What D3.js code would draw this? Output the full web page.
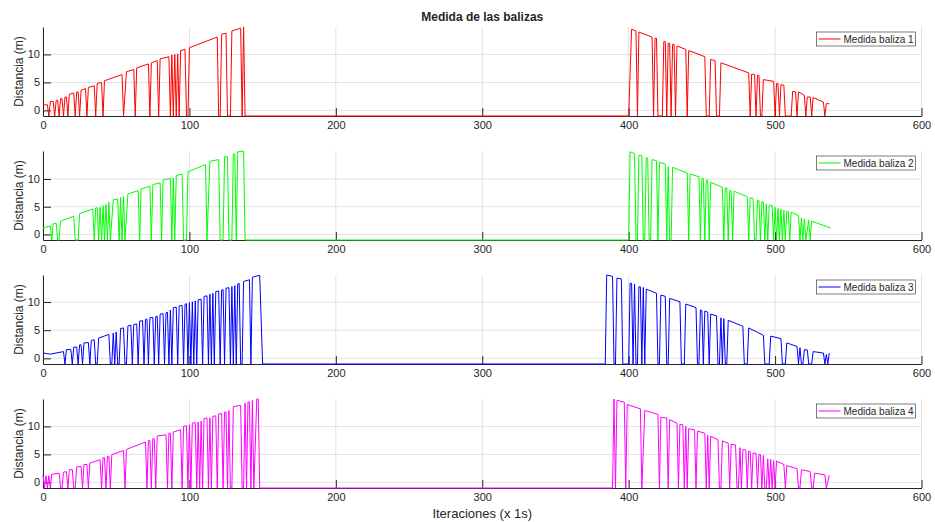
<!DOCTYPE html>
<html>
<head>
<meta charset="utf-8">
<script src="https://cdn.jsdelivr.net/npm/d3@7"></script>
<style>
body{margin:0;background:#fff;}
text{font-family:"Liberation Sans",Arial,Helvetica,sans-serif;fill:#262626;}
</style>
</head>
<body>
<div id="graph"></div>
<script>
//vertices of each measured line [iteration, distance], -1 = no measurement
const baliza1 = [[0,1.0],[3,1.0],[4,-1],[5,1.6],[7,1.6],[8,-1],[9,1.8],[10,1.8],[11,-1],[12,2.1],[13,2.1],[14,-1],[15,2.4],[16,2.4],[17,-1],
  [18,2.9],[21,3.1],[22,-1],[23,3.3],[24,3.3],[25,-1],[26,3.6],[29,3.9],[30,-1],[31,4.1],[35,4.4],[36,-1],[37,4.8],[40,5.0],[41,-1],
  [42,5.3],[54,6.4],[55,-1],[57,6.9],[62,7.3],[63,-1],[64,7.6],[72,8.3],[73,-1],[74,8.5],[78,8.9],[79,-1],[80,9.2],[86,9.6],[87,-1],
  [88,9.9],[89,-1],[90,10.0],[91,-1],[92,10.1],[93,-1],[94,10.7],[97,10.9],[98,-1],[99,-1],[100,11.2],[119,13.1],[120,-1],[121,-1],
  [122,13.6],[125,13.8],[126,-1],[128,-1],[129,14.2],[135,14.7],[136,-1],[137,14.9],[138,-1],
  [400,-1],[402,14.5],[405,14.2],[406,-1],[407,14.0],[416,13.1],[417,-1],[418,12.9],[419,12.9],[420,-1],[423,-1],[424,12.3],[425,12.3],
  [426,-1],[427,12.0],[428,12.0],[429,-1],[430,11.8],[431,11.8],[432,-1],[433,11.5],[439,10.9],[440,-1],[441,10.7],[452,9.6],[453,-1],
  [455,-1],[456,9.1],[459,8.9],[460,-1],[462,-1],[463,8.5],[482,6.7],[483,-1],[484,6.5],[486,6.4],[487,-1],[488,6.3],[489,6.2],[490,-1],
  [491,-1],[492,5.5],[499,5.2],[500,-1],[501,4.8],[502,4.8],[503,-1],[504,4.6],[506,4.5],[507,-1],[511,-1],[512,3.4],[514,3.3],[515,-1],
  [516,3.3],[520,2.7],[521,-1],[522,2.4],[524,2.4],[525,-1],[526,2.3],[533,1.5],[534,-1],[535,1.2],[537,1.2]];

const baliza2 = [[0,1.2],[5,1.5],[6,-1],[7,2.0],[9,2.0],[10,-1],[11,-1],[12,2.4],[21,3.3],[22,-1],[24,-1],[25,3.75],[34,4.6],[35,-1],
  [36,4.8],[37,4.8],[38,-1],[39,4.9],[40,-1],[41,5.2],[42,-1],[43,5.4],[44,-1],[45,5.8],[46,-1],[48,6.25],[51,6.4],[52,-1],[53,6.7],
  [54,-1],[55,6.8],[56,-1],[58,7.3],[65,7.9],[66,-1],[67,8.2],[73,8.7],[74,-1],[75,9.0],[80,9.3],[81,-1],[82,9.8],[87,10.1],[88,-1],
  [89,10.2],[90,-1],[91,10.6],[95,10.9],[96,-1],[98,-1],[99,11.3],[111,12.6],[112,-1],[114,13.2],[120,13.5],[121,-1],[123,-1],
  [124,14.0],[126,14.0],[127,-1],[129,-1],[130,14.5],[131,14.5],[132,-1],[133,14.9],[137,15.05],[138,-1],
  [400,-1],[401,14.9],[404,14.6],[405,-1],[406,-1],[407,14.3],[409,14.2],[410,-1],[411,-1],[412,13.8],[413,13.8],[414,-1],[415,-1],
  [416,13.5],[419,13.3],[420,-1],[421,13.0],[425,12.7],[426,-1],[427,12.2],[428,-1],[429,-1],[430,12.1],[440,11.1],[441,-1],[442,10.9],
  [448,10.4],[449,-1],[450,10.1],[451,10.1],[452,-1],[453,9.8],[454,9.8],[455,-1],[456,9.4],[464,8.5],[465,-1],[466,8.4],[467,8.4],
  [468,-1],[469,7.9],[470,7.9],[471,-1],[472,7.8],[481,6.8],[482,-1],[483,6.6],[485,6.5],[486,-1],[487,-1],[488,6.1],[489,6.1],[490,-1],
  [491,5.9],[492,5.9],[493,-1],[494,5.5],[495,-1],[496,5.3],[498,5.2],[499,-1],[500,4.9],[501,-1],[502,4.7],[503,-1],[504,4.6],[505,-1],
  [506,4.4],[507,-1],[508,4.2],[509,4.2],[510,-1],[511,4.0],[516,3.4],[517,-1],[518,3.0],[519,-1],[520,2.75],[521,-1],[523,2.6],
  [524,-1],[525,2.4],[538,1.15]];

const baliza3 = [[0,0.96],[5,0.75],[14,1.2],[15,-1],[16,1.55],[19,1.6],[20,-1],[21,2.0],[23,2.0],[24,-1],[25,2.4],[26,2.4],[27,-1],
  [28,2.75],[31,2.8],[32,-1],[33,3.2],[35,3.3],[36,-1],[37,-1],[38,3.6],[45,4.25],[46,-1],[47,-1],[48,4.5],[49,-1],[50,4.7],[51,-1],
  [52,-1],[53,5.3],[55,5.4],[56,-1],[57,-1],[58,5.75],[60,5.9],[61,-1],[62,6.0],[64,6.1],[65,-1],[66,6.6],[68,6.7],[69,-1],[70,6.9],
  [71,7.0],[72,-1],[73,7.2],[75,7.3],[76,-1],[77,7.4],[78,7.5],[79,-1],[80,7.85],[82,7.95],[83,-1],[84,8.1],[85,8.2],[86,-1],[87,8.6],
  [88,-1],[89,9.0],[91,9.1],[92,-1],[93,9.3],[95,9.4],[96,-1],[97,9.6],[98,9.7],[99,-1],[100,9.9],[101,-1],[102,10.05],[103,-1],
  [104,10.2],[105,-1],[106,10.4],[108,10.5],[109,-1],[110,11.0],[112,11.1],[113,-1],[114,11.4],[115,-1],[116,11.55],[117,-1],[118,11.85],
  [120,11.95],[121,-1],[122,12.15],[123,12.2],[124,-1],[125,12.45],[127,12.55],[128,-1],[129,12.75],[130,-1],[131,12.9],[132,-1],
  [133,13.2],[134,13.3],[135,-1],[136,-1],[137,13.65],[141,13.95],[142,-1],[143,14.4],[148,14.75],[150,-1],
  [384,-1],[385,14.8],[389,14.55],[390,-1],[391,-1],[392,14.25],[395,14.1],[396,-1],[400,-1],[401,13.35],[402,13.3],[403,-1],[404,13.2],
  [405,-1],[406,-1],[407,12.7],[408,12.7],[409,-1],[410,12.6],[411,-1],[412,12.3],[419,11.55],[420,-1],[421,-1],[422,11.25],[425,11.0],
  [426,-1],[427,-1],[428,10.65],[435,10.05],[436,-1],[438,-1],[439,9.65],[446,9.0],[447,-1],[448,-1],[449,8.6],[450,8.5],[451,-1],
  [452,8.4],[454,8.2],[455,-1],[456,7.85],[460,7.55],[461,-1],[462,-1],[463,7.2],[464,-1],[465,7.05],[466,-1],[467,-1],[468,6.75],
  [478,5.7],[479,-1],[481,-1],[482,5.4],[492,4.1],[493,-1],[496,-1],[497,3.95],[504,3.5],[505,-1],[507,-1],[508,2.75],[515,2.1],
  [516,-1],[517,1.9],[518,-1],[519,-1],[520,1.55],[522,1.5],[523,-1],[525,-1],[526,1.2],[533,0.95],[534,-1],[535,0.7],[536,-1],[537,0.95]];

const baliza4 = [[0,1.3],[1,-1],[2,1.2],[3,-1],[4,1.2],[5,-1],[6,1.45],[11,1.65],[12,-1],[13,-1],[14,1.85],[16,1.9],[17,-1],[18,2.25],
  [20,2.3],[21,-1],[22,-1],[23,2.75],[26,2.85],[27,-1],[28,3.2],[30,3.2],[31,-1],[32,3.45],[39,4.05],[40,-1],[41,4.4],[42,4.4],[43,-1],
  [44,4.65],[45,4.65],[46,-1],[47,4.95],[55,5.7],[56,-1],[57,5.9],[70,7.2],[71,-1],[72,7.5],[73,7.5],[74,-1],[75,7.8],[76,7.8],[77,-1],
  [78,8.3],[84,8.5],[85,-1],[86,8.8],[87,8.8],[88,-1],[89,9.0],[94,9.4],[95,-1],[96,10.0],[98,10.1],[99,-1],[100,10.3],[101,-1],
  [102,10.6],[104,10.7],[105,-1],[106,10.8],[107,-1],[108,10.95],[109,-1],[110,11.4],[112,11.5],[113,-1],[114,11.55],[115,-1],[116,11.8],
  [118,11.9],[119,-1],[120,12.25],[122,12.3],[123,-1],[124,12.55],[125,12.6],[126,-1],[127,12.85],[128,-1],[129,-1],[130,13.55],
  [135,13.75],[136,-1],[137,-1],[138,14.15],[139,-1],[140,14.35],[141,14.4],[142,-1],[143,14.65],[144,-1],[146,14.9],[147,14.9],[148,-1],
  [389,-1],[390,14.9],[391,-1],[392,14.65],[397,14.35],[398,-1],[399,13.9],[408,13.15],[409,-1],[411,12.85],[420,12.15],[421,-1],
  [422,11.65],[426,11.5],[427,-1],[428,11.2],[433,10.6],[434,-1],[435,10.35],[437,10.3],[438,-1],[439,10.0],[440,-1],[441,9.6],[445,9.4],
  [446,-1],[447,9.15],[452,8.8],[453,-1],[454,8.4],[455,-1],[456,8.25],[461,7.6],[462,-1],[463,-1],[464,7.4],[468,7.0],[469,-1],
  [470,6.8],[473,6.7],[474,-1],[475,-1],[476,6.2],[477,-1],[478,5.85],[480,5.8],[481,-1],[482,5.6],[483,5.55],[484,-1],[485,5.25],
  [487,5.2],[488,-1],[489,5.0],[490,4.95],[491,-1],[492,4.8],[493,-1],[494,-1],[495,4.2],[496,-1],[497,4.1],[498,-1],[499,3.9],[500,-1],
  [501,3.8],[506,3.2],[507,-1],[508,3.0],[515,2.45],[516,-1],[517,-1],[518,2.25],[524,1.95],[525,-1],[526,-1],[527,1.65],[534,1.35],
  [535,-1],[537,1.25]];

const series = [baliza1, baliza2, baliza3, baliza4];
const legendNames = ["Medida baliza 1", "Medida baliza 2", "Medida baliza 3", "Medida baliza 4"];
const lineColors = ["#ff0000", "#00ff00", "#0000ff", "#ff00ff"];
const xTicks = [0, 100, 200, 300, 400, 500, 600];
const yTicks = [0, 5, 10];

//svg
let svg = d3.select("#graph").append("svg")
    .attr("width", 935)
    .attr("height", 522);

let left = 43, right = 921.5, panelH = 89, panelStep = 124, firstTop = 27;
let x = d3.scaleLinear().domain([0, 600]).range([left, right]);

series.forEach(function (data, i) {
    let top = firstTop + i * panelStep;
    let bottom = top + panelH;
    let y = d3.scaleLinear()
        .domain([-1, d3.max(data, d => d[1])])
        .range([bottom, top]);

    let g = svg.append("g");

    //grid
    g.selectAll(".gx").data(xTicks).enter().append("line")
        .attr("x1", d => x(d)).attr("x2", d => x(d))
        .attr("y1", top).attr("y2", bottom)
        .attr("stroke", "#e2e2e2").attr("stroke-width", 1);
    g.selectAll(".gy").data(yTicks).enter().append("line")
        .attr("x1", left).attr("x2", right)
        .attr("y1", d => y(d)).attr("y2", d => y(d))
        .attr("stroke", "#e2e2e2").attr("stroke-width", 1);

    //axes, ticks pointing inward
    let xa = g.append("g")
        .attr("transform", "translate(0," + bottom + ")")
        .call(d3.axisBottom(x).tickValues(xTicks).tickSizeInner(-8).tickSizeOuter(0).tickPadding(5));
    let ya = g.append("g")
        .attr("transform", "translate(" + left + ",0)")
        .call(d3.axisLeft(y).tickValues(yTicks).tickSizeInner(-8).tickSizeOuter(0).tickPadding(3));
    [xa, ya].forEach(function (a) {
        a.select(".domain").attr("stroke", "#262626");
        a.selectAll(".tick line").attr("stroke", "#262626");
        a.selectAll("text").attr("font-size", "11px");
    });

    g.append("text")
        .attr("transform", "translate(23," + (top + panelH / 2) + ") rotate(-90)")
        .attr("text-anchor", "middle")
        .attr("font-size", "12px")
        .text("Distancia (m)");

    //data
    g.append("path")
        .datum(data)
        .attr("fill", "none")
        .attr("stroke", lineColors[i])
        .attr("stroke-width", 1)
        .attr("stroke-linejoin", "round")
        .attr("d", d3.line().x(d => x(d[0])).y(d => y(d[1])));

    //legend
    let lg = g.append("g").attr("transform", "translate(" + (right - 105) + "," + (top + 5) + ")");
    lg.append("rect")
        .attr("width", 99).attr("height", 14)
        .attr("fill", "#fff").attr("stroke", "#262626").attr("stroke-width", 0.6);
    lg.append("line")
        .attr("x1", 2).attr("x2", 24).attr("y1", 7).attr("y2", 7)
        .attr("stroke", lineColors[i]).attr("stroke-width", 1);
    lg.append("text")
        .attr("x", 27).attr("y", 7)
        .attr("dy", "0.35em")
        .attr("font-size", "10px")
        .text(legendNames[i]);
});

svg.append("text")
    .attr("x", (left + right) / 2).attr("y", 17)
    .attr("dy", "0.35em")
    .attr("text-anchor", "middle")
    .attr("font-size", "12px")
    .attr("font-weight", "bold")
    .text("Medida de las balizas");

svg.append("text")
    .attr("x", (left + right) / 2).attr("y", 513)
    .attr("dy", "0.35em")
    .attr("text-anchor", "middle")
    .attr("font-size", "13px")
    .text("Iteraciones (x 1s)");
</script>
</body>
</html>
